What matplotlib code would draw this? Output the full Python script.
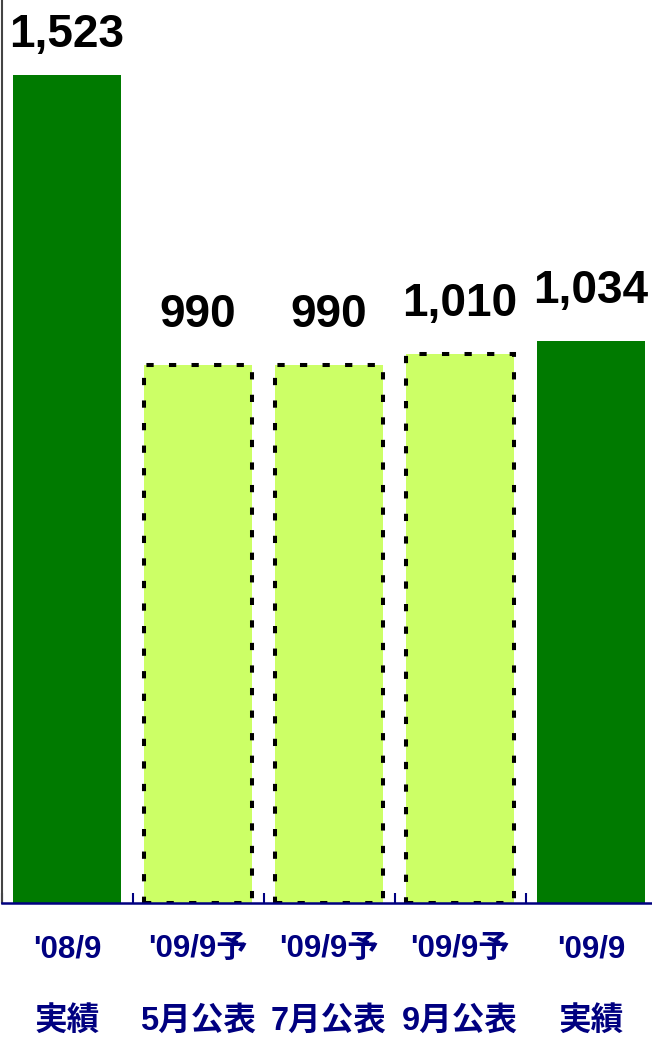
import matplotlib.pyplot as plt
from matplotlib.transforms import blended_transform_factory

plt.rcParams['font.family'] = ['Liberation Sans', 'Noto Sans CJK JP', 'DejaVu Sans']

periods = ["'08/9", "'09/9予", "'09/9予", "'09/9予", "'09/9"]
notes = ["実績", "5月公表", "7月公表", "9月公表", "実績"]
values = [1523, 990, 990, 1010, 1034]
is_forecast = [False, True, True, True, False]

fig = plt.figure(figsize=(6.52, 10.38), dpi=100)
ax = fig.add_axes([1.5 / 652, 135 / 1038, 655 / 652, 903 / 1038])

ymax = 1661
x = list(range(len(values)))
for xi, v, fc in zip(x, values, is_forecast):
    if fc:
        ax.bar(xi, v, width=0.83, color='#CCFF66', edgecolor='black',
               linewidth=2.9, linestyle=(0, (1.8, 3.8)))
    else:
        ax.bar(xi, v, width=0.83, color='#007A00', edgecolor='none')
    # label sits above the bar, but is kept inside the plot area
    ly = min(v + 70, ymax - 87)
    ax.text(xi, ly, f'{v:,}', ha='center', va='baseline',
            fontsize=33, fontweight='bold', color='black')

ax.set_xlim(-0.5, 4.5)
ax.set_ylim(0, ymax)

trans = blended_transform_factory(ax.transData, fig.transFigure)
for xi, p, n in zip(x, periods, notes):
    ax.text(xi, 1 - 949 / 1038, p, transform=trans, ha='center', va='center',
            fontsize=22.5, fontweight='bold', color='#000080')
    ax.text(xi, 1 - 1021 / 1038, n, transform=trans, ha='center', va='center',
            fontsize=23.5, fontweight='bold', color='#000080')

ax.set_xticks([])
ax.set_xticks([-0.5, 0.5, 1.5, 2.5, 3.5, 4.5], minor=True)
ax.tick_params(axis='x', which='minor', direction='in', length=7,
               width=1.5, color='#000080', labelbottom=False)
ax.set_yticks([])

ax.spines['top'].set_visible(False)
ax.spines['right'].set_visible(False)
ax.spines['bottom'].set_color('#000080')
ax.spines['bottom'].set_linewidth(1.8)
ax.spines['left'].set_color('#444444')
ax.spines['left'].set_linewidth(1.5)

plt.savefig('out.png', dpi=100)
